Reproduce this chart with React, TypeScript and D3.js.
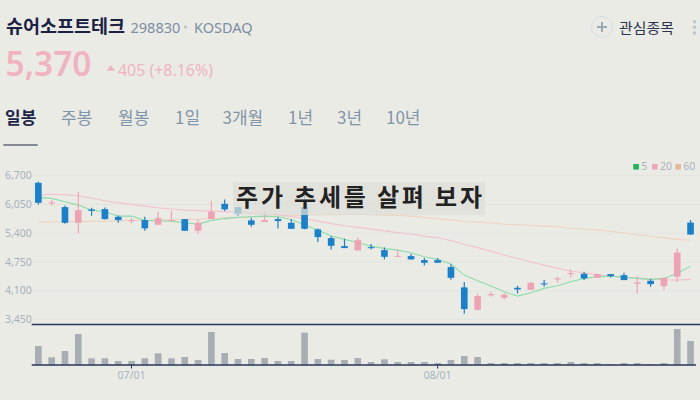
import React from "react";
import * as d3 from "d3";

const dates = [
  "06/22","06/23","06/24","06/25","06/26","06/29","06/30",
  "07/01","07/02","07/03","07/06","07/07","07/08","07/09","07/10","07/13","07/14","07/15","07/16","07/17",
  "07/20","07/21","07/22","07/23","07/24","07/27","07/28","07/29","07/30","07/31",
  "08/03","08/04","08/05","08/06","08/07","08/10","08/11","08/12","08/13","08/14",
  "08/18","08/19","08/20","08/21","08/24","08/25","08/26","08/27","08/28","08/31",
];

const opens = [6537,6085,5989,5635,5937,5944,5770,5685,5696,5590,5680,5718,5454,5718,6064,5989,5689,5651,5718,5635,5989,5486,5289,5109,5012,5085,5018,4867,4883,4793,4793,4635,4177,3671,3996,3942,4168,4122,4267,4364,4484,4484,4393,4477,4454,4258,4326,4206,4416,5640];
const highs = [6569,6147,6027,6328,5973,5982,5802,5741,5770,5876,5906,5718,5711,6131,6163,5989,5748,5899,5763,5718,6289,5508,5334,5274,5304,5154,5079,5034,4928,4838,4838,4702,4296,4041,4086,4055,4213,4296,4341,4416,4583,4529,4492,4477,4507,4432,4364,4393,5057,5696];
const lows = [6050,6018,5612,5395,5793,5711,5635,5621,5454,5590,5666,5454,5386,5718,5899,5793,5545,5651,5508,5499,5486,5199,5034,5064,5012,5034,4809,4867,4809,4673,4733,4348,3581,3658,3965,3906,4041,4122,4190,4289,4402,4341,4393,4402,4341,4041,4190,4122,4303,5357];
const closes = [6086,6095,5635,5921,5906,5718,5696,5694,5508,5741,5696,5454,5635,5883,5937,5838,5590,5696,5673,5499,5499,5312,5116,5064,5244,5075,4867,4889,4809,4732,4733,4393,3687,3980,4025,4010,4131,4280,4244,4379,4500,4379,4477,4432,4341,4289,4251,4393,4965,5370];

const volumes = [1900000,770000,1400000,3100000,670000,670000,400000,400000,670000,1170000,670000,800000,500000,3300000,1200000,600000,600000,700000,400000,400000,3230000,600000,530000,500000,700000,300000,570000,300000,300000,300000,200000,500000,900000,800000,200000,200000,200000,200000,200000,200000,300000,200000,200000,100000,200000,200000,100000,200000,3600000,2400000];

const ma5 = [6208,6185,6109,6034,5921,5883,5786,5786,5689,5680,5673,5635,5605,5689,5730,5757,5770,5786,5770,5711,5583,5470,5335,5260,5183,5109,5057,5018,4957,4867,4809,4703,4455,4326,4206,4077,3980,4055,4154,4213,4303,4380,4416,4432,4402,4380,4357,4380,4493,4657];
const ma20 = [6260,6278,6271,6244,6188,6131,6091,6050,6012,5973,5946,5921,5910,5899,5888,5876,5860,5836,5820,5775,5734,5673,5617,5567,5531,5492,5452,5413,5375,5334,5301,5233,5143,5075,4996,4906,4827,4748,4680,4612,4545,4508,4466,4432,4402,4380,4364,4348,4341,4357];
const ma60 = [5651,5654,5657,5662,5666,5672,5678,5684,5689,5697,5705,5712,5718,5732,5750,5758,5770,5779,5790,5799,5808,5815,5820,5823,5824,5818,5808,5800,5786,5757,5723,5700,5665,5650,5630,5601,5590,5575,5560,5545,5510,5495,5475,5440,5410,5360,5330,5295,5260,5240];

const yTicks = [3450, 4100, 4750, 5400, 6050, 6700];
const xTickDates = ["07/01", "08/03"];
const xTickLabels = ["07/01", "08/01"];

const tabs = ["일봉", "주봉", "월봉", "1일", "3개월", "1년", "3년", "10년"];
const tabX = [5, 61, 118, 175, 222.5, 288, 337, 386];

const legendNames = ["5", "20", "60"];

const KR = "'Noto Sans CJK KR', 'Noto Sans', sans-serif";
const LAT = "'Noto Sans', sans-serif";
const UP = "#eca4b5";
const DOWN = "#1b80c7";
const BG = "#ebebe6";

export default function App() {
  const x = d3.scaleBand<string>().domain(dates).range([31.7, 697.2]).padding(0);
  const cx = (d: string) => (x(d) as number) + x.bandwidth() / 2;
  const y = d3.scaleLinear().domain([3450, 6700]).range([319.6, 175.6]);
  const yv = d3.scaleLinear().domain([0, 4050000]).range([365, 324.5]);
  const bw = x.bandwidth() * 0.5;

  const line = (vals: number[]) =>
    d3.line<number>().x((_, i) => cx(dates[i])).y((v) => y(v))(vals) as string;

  const maLines = [
    { vals: ma60, color: "#efd3bf" },
    { vals: ma20, color: "#f1c3cd" },
    { vals: ma5, color: "#8edcab" },
  ];
  const legendColors = ["#20b25c", "#eea7b8", "#e2b999"];

  return (
    <svg
      width={700}
      height={400}
      style={{ position: "fixed", left: 0, top: 0, display: "block" }}
      fontFamily={KR}
    >
      <rect x={0} y={0} width={700} height={400} fill={BG} />

      {/* header */}
      <text x={6} y={32.5} fontSize={18} fontWeight="bold" fill="#1b2143" textLength={119} lengthAdjust="spacingAndGlyphs">슈어소프트테크</text>
      <text x={130.5} y={32.5} fontSize={14.5} fill="#7c8ea3" fontFamily={LAT}>298830</text>
      <circle cx={185.5} cy={27} r={1.6} fill="#b8c3cc" />
      <text x={194} y={32.5} fontSize={14.5} fill="#7c8ea3" fontFamily={LAT}>KOSDAQ</text>

      <text x={5.5} y={75.5} fontSize={34} fontWeight={600} fill="#f0b3c0" fontFamily={LAT} textLength={86} lengthAdjust="spacingAndGlyphs">5,370</text>
      <path d="M106.5,70.7 L110.8,65 L115,70.7 Z" fill="#f0b3c0" />
      <text x={118} y={76} fontSize={16} fill="#f0b3c0" fontFamily={LAT} textLength={95} lengthAdjust="spacingAndGlyphs">405 (+8.16%)</text>

      <circle cx={602} cy={27} r={10.5} fill="none" stroke="#d3dfe2" strokeWidth={1} />
      <line x1={597} x2={607} y1={27} y2={27} stroke="#9aa9b5" strokeWidth={2} />
      <line x1={602} x2={602} y1={22} y2={32} stroke="#9aa9b5" strokeWidth={2} />
      <text x={619} y={32.5} fontSize={14} fill="#2b3550" textLength={55} lengthAdjust="spacingAndGlyphs">관심종목</text>
      {[21.7, 27.3, 33].map((cy) => (
        <circle key={cy} cx={694.5} cy={cy} r={1.7} fill="#b9c6cc" />
      ))}

      {/* tabs */}
      {tabs.map((t, i) => (
        <text
          key={t}
          x={tabX[i]}
          y={123.5}
          fontSize={17}
          fontWeight={i === 0 ? "bold" : "normal"}
          fill={i === 0 ? "#1e2846" : "#8195a8"}
        >
          {t}
        </text>
      ))}
      <line x1={3.3} x2={37.7} y1={145} y2={145} stroke="#1e2846" strokeWidth={1.2} />

      {/* legend */}
      {legendNames.map((n, i) => {
        const lx = [633.3, 652, 675.3][i];
        return (
          <g key={n}>
            <rect x={lx} y={164} width={5.6} height={5.6} fill={legendColors[i]} />
            <text x={lx + 8} y={170.3} fontSize={10.5} fill="#a9b5be" fontFamily={LAT}>{n}</text>
          </g>
        );
      })}

      {/* grid + y labels */}
      {yTicks.map((t) => (
        <g key={t}>
          <line x1={31.7} x2={700} y1={y(t)} y2={y(t)} stroke="#e2e4df" strokeWidth={1} />
          <text x={5} y={y(t)} dy="0.35em" fontSize={10.5} fill="#a6b2bc" fontFamily={LAT}>
            {d3.format(",")(t)}
          </text>
        </g>
      ))}

      {/* moving averages */}
      {maLines.map((m, i) => (
        <path key={i} d={line(m.vals)} fill="none" stroke={m.color} strokeWidth={1.1} />
      ))}

      {/* candles */}
      {dates.map((d, i) => {
        const o = opens[i], c = closes[i], h = highs[i], l = lows[i];
        const col = c >= o ? UP : DOWN;
        const top = y(Math.max(o, c));
        const bh = Math.max(1, Math.abs(y(o) - y(c)));
        return (
          <g key={d}>
            <line x1={cx(d)} x2={cx(d)} y1={y(h)} y2={y(l)} stroke={col} strokeWidth={1.2} />
            <rect x={cx(d) - bw / 2} y={top} width={bw} height={bh} fill={col} />
          </g>
        );
      })}

      {/* overlay title box */}
      <rect x={233} y={182} width={252} height={33} fill="rgba(222,222,218,0.72)" />
      <text
        x={236}
        y={206}
        fontSize={24}
        fontWeight="bold"
        fill="#222222"
        textLength={246}
        lengthAdjust="spacing"
      >
        주가 추세를 살펴 보자
      </text>

      {/* volume */}
      {dates.map((d, i) => (
        <rect
          key={d}
          x={cx(d) - bw / 2}
          y={yv(volumes[i])}
          width={bw}
          height={365 - yv(volumes[i])}
          fill="#a8aeb3"
        />
      ))}
      <line x1={31.7} x2={700} y1={324.5} y2={324.5} stroke="#27375a" strokeWidth={1.3} />
      <line x1={31.7} x2={696} y1={365} y2={365} stroke="#27375a" strokeWidth={1.3} />

      {xTickDates.map((d, i) => (
        <g key={d}>
          <line x1={cx(d)} x2={cx(d)} y1={365} y2={368.5} stroke="#27375a" strokeWidth={1} />
          <text x={cx(d)} y={375.5} dy="0.35em" textAnchor="middle" fontSize={10.5} fill="#a3b3bf" fontFamily={LAT}>
            {xTickLabels[i]}
          </text>
        </g>
      ))}
    </svg>
  );
}
